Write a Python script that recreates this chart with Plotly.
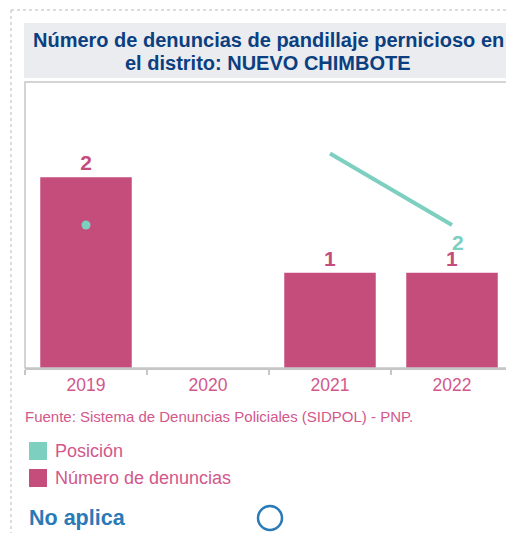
import plotly.graph_objects as go

# ---- data ----
years = ["2019", "2020", "2021", "2022"]
denuncias = [2, None, 1, 1]
posicion = [2, None, 1, 2]
posicion_labels = ["", "", "", "2"]

title_lines = ["Número de denuncias de pandillaje pernicioso en", "el distrito: NUEVO CHIMBOTE"]
source_text = "Fuente: Sistema de Denuncias Policiales (SIDPOL) - PNP."
legend_labels = ["Posición", "Número de denuncias"]
no_aplica = "No aplica"

VW, VH = 514, 541
OFF = 8  # page body margin
W, H = VW - OFF, VH - 2 * OFF
PINK = "#c54d7c"
PINK_TXT = "#d2578b"
TEAL = "#7dcfbf"
NAVY = "#0b3f80"
BLUE = "#2a7ab8"
GRAY = "#c6c6c6"
FONT = "Liberation Sans, Arial, sans-serif"


def px(x):
    return (x - OFF) / W


def py(y):
    return 1 - (y - OFF) / H


# isolated points (no neighbours) get a visible dot, others just the line
def isolated(vals, i):
    left = vals[i - 1] if i > 0 else None
    right = vals[i + 1] if i < len(vals) - 1 else None
    return vals[i] is not None and left is None and right is None


posicion_iso = [v if isolated(posicion, i) else None for i, v in enumerate(posicion)]

fig = go.Figure()

fig.add_trace(go.Bar(
    x=years, y=denuncias,
    marker=dict(color=PINK, line=dict(width=0)),
    width=0.75,
    text=[("" if v is None else str(v)) for v in denuncias],
    textposition="outside",
    textfont=dict(family=FONT, size=21, color=PINK, weight="bold"),
    cliponaxis=False,
    showlegend=False,
    hoverinfo="x+y",
))

fig.add_trace(go.Scatter(
    x=years, y=posicion, yaxis="y2",
    mode="lines",
    line=dict(color=TEAL, width=4),
    connectgaps=False,
    cliponaxis=False,
    showlegend=False,
))

fig.add_trace(go.Scatter(
    x=years, y=posicion_iso, yaxis="y2",
    mode="markers",
    marker=dict(color=TEAL, size=9),
    cliponaxis=False,
    showlegend=False,
))

shapes = []
# dotted outer border
shapes.append(dict(type="line", xref="paper", yref="paper", x0=px(11), x1=px(520), y0=py(10), y1=py(10),
                   line=dict(color="#b8b8b8", width=1, dash="dot")))
shapes.append(dict(type="line", xref="paper", yref="paper", x0=px(11), x1=px(11), y0=py(10), y1=0,
                   line=dict(color="#b8b8b8", width=1, dash="dot")))
# title background
shapes.append(dict(type="rect", xref="paper", yref="paper", x0=px(24), x1=px(513), y0=py(23), y1=py(78),
                   fillcolor="#eaecf0", line=dict(width=0), layer="below"))
# plot frame
shapes.append(dict(type="rect", xref="x domain", yref="y domain", x0=0, x1=1, y0=0, y1=1,
                   line=dict(color=GRAY, width=1.5), layer="above"))
# legend squares
shapes.append(dict(type="rect", xref="paper", yref="paper", x0=px(29), x1=px(47), y0=py(442), y1=py(460),
                   fillcolor=TEAL, line=dict(width=0)))
shapes.append(dict(type="rect", xref="paper", yref="paper", x0=px(29), x1=px(47), y0=py(469), y1=py(487),
                   fillcolor=PINK, line=dict(width=0)))
# no aplica circle
shapes.append(dict(type="circle", xref="paper", yref="paper", x0=px(258), x1=px(282), y0=py(506), y1=py(530),
                   line=dict(color=BLUE, width=2.5)))

annotations = [
    dict(text="<b>" + title_lines[0] + "</b>", xref="paper", yref="paper", x=px(268), y=py(40),
         xanchor="center", yanchor="middle", showarrow=False,
         font=dict(family=FONT, size=20, color=NAVY)),
    dict(text="<b>" + title_lines[1] + "</b>", xref="paper", yref="paper", x=px(268), y=py(63),
         xanchor="center", yanchor="middle", showarrow=False,
         font=dict(family=FONT, size=20, color=NAVY)),
    dict(text=source_text, xref="paper", yref="paper", x=px(23), y=py(416),
         xanchor="left", yanchor="middle", showarrow=False,
         font=dict(family=FONT, size=15, color=PINK_TXT)),
    dict(text=legend_labels[0], xref="paper", yref="paper", x=px(53), y=py(451),
         xanchor="left", yanchor="middle", showarrow=False,
         font=dict(family=FONT, size=18, color=PINK_TXT)),
    dict(text=legend_labels[1], xref="paper", yref="paper", x=px(53), y=py(478),
         xanchor="left", yanchor="middle", showarrow=False,
         font=dict(family=FONT, size=18, color=PINK_TXT)),
    dict(text="<b>" + no_aplica + "</b>", xref="paper", yref="paper", x=px(27), y=py(518),
         xanchor="left", yanchor="middle", showarrow=False,
         font=dict(family=FONT, size=21.5, color=BLUE)),
]

# position value labels, anchored to the data points (category index on x)
for i, (val, lab) in enumerate(zip(posicion, posicion_labels)):
    if val is not None and lab:
        annotations.append(dict(
            text="<b>" + lab + "</b>", x=i, y=val, xref="x", yref="y2",
            showarrow=False, xanchor="center", yanchor="middle",
            xshift=6, yshift=-17,
            font=dict(family=FONT, size=21, color=TEAL),
        ))

fig.update_layout(
    width=W, height=H,
    autosize=False,
    margin=dict(l=0, r=0, t=0, b=0),
    paper_bgcolor="white", plot_bgcolor="white",
    bargap=0.25,
    shapes=shapes,
    annotations=annotations,
    xaxis=dict(
        domain=[px(25), px(513)],
        type="category",
        categoryorder="array", categoryarray=years,
        showline=True, linecolor=GRAY, linewidth=1.5,
        ticks="outside", tickson="boundaries", ticklen=5, tickcolor=GRAY, tickwidth=1.5,
        tickfont=dict(family=FONT, size=17.5, color=PINK_TXT),
        showgrid=False, zeroline=False,
    ),
    yaxis=dict(
        domain=[py(368), py(82)],
        range=[0, 3],
        visible=False, showgrid=False, zeroline=False,
    ),
    yaxis2=dict(
        overlaying="y",
        range=[4, 0],
        visible=False, showgrid=False, zeroline=False,
    ),
)

fig.write_html("out.html", config={"responsive": False})
